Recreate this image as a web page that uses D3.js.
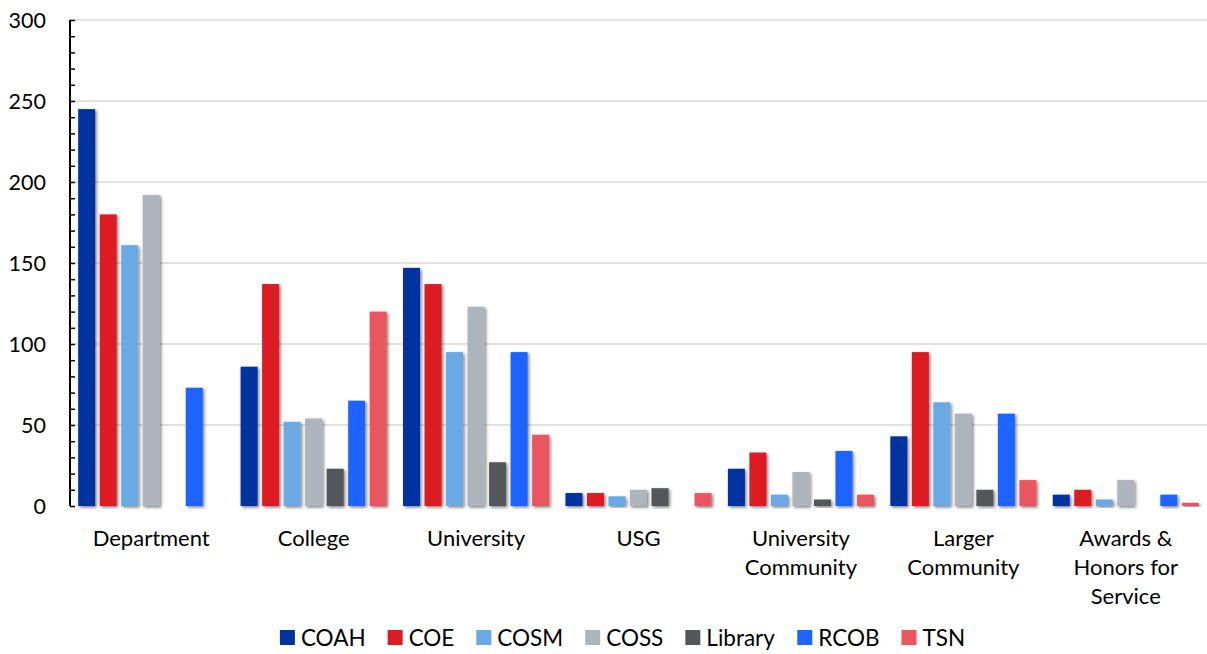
<!DOCTYPE html>
<html><head><meta charset="utf-8">
<script src="https://cdn.jsdelivr.net/npm/d3@7"></script>
<style>
html,body{margin:0;padding:0;background:#fff;}
svg{display:block;font-family:Lato,"Open Sans",sans-serif;}
</style></head>
<body>
<svg id="chart" width="1207" height="654"></svg>
<script>
const categories = [["Department"],["College"],["University"],["USG"],["University","Community"],["Larger","Community"],["Awards &","Honors for","Service"]];
const seriesNames = ["COAH","COE","COSM","COSS","Library","RCOB","TSN"];
const seriesColors = ["#0033A0","#DC1C24","#6AA9E4","#AEB4BB","#53565A","#1F63FF","#EA5760"];
const COAH    = [245, 86, 147, 8, 23, 43, 7];
const COE     = [180, 137, 137, 8, 33, 95, 10];
const COSM    = [161, 52, 95, 6, 7, 64, 4];
const COSS    = [192, 54, 123, 10, 21, 57, 16];
const Library = [0, 23, 27, 11, 4, 10, 0];
const RCOB    = [73, 65, 95, 0, 34, 57, 7];
const TSN     = [0, 120, 44, 8, 7, 16, 2];
const yTicks = [0, 50, 100, 150, 200, 250, 300];

const seriesValues = [COAH, COE, COSM, COSS, Library, RCOB, TSN];
const svg = d3.select("#chart");
const mLeft = 70, mRight = 1207, mTop = 20, mBottom = 506;

const defs = svg.append("defs");
const f = defs.append("filter").attr("id","sh").attr("x","-30%").attr("y","-10%").attr("width","160%").attr("height","130%");
f.append("feDropShadow").attr("dx",1.5).attr("dy",1.5).attr("stdDeviation",1.8).attr("flood-color","#000").attr("flood-opacity",0.5);

const catKeys = categories.map((c,i)=>i);
const x0 = d3.scaleBand().domain(catKeys).range([mLeft, mRight]).paddingInner(0).paddingOuter(0);
const x1 = d3.scaleBand().domain(seriesNames).range([0, x0.bandwidth()]).paddingInner(0.21).paddingOuter(0.38);
const y = d3.scaleLinear().domain([0,300]).range([mBottom, mTop]);

// gridlines
svg.append("g").selectAll("line").data(yTicks.filter(t=>t>0)).join("line")
  .attr("x1",mLeft).attr("x2",mRight).attr("y1",d=>y(d)).attr("y2",d=>y(d))
  .attr("stroke","#d9d9d9").attr("stroke-width",1.5);

// baseline
svg.append("line").attr("x1",mLeft).attr("x2",mRight).attr("y1",y(0)).attr("y2",y(0))
  .attr("stroke","#d0d0d0").attr("stroke-width",2.5).attr("filter","url(#sh)");

// bars
const groups = svg.append("g").selectAll("g").data(catKeys).join("g")
  .attr("transform",d=>`translate(${x0(d)},0)`);
groups.selectAll("rect").data(ci=>seriesNames.map((s,si)=>({s,si,v:seriesValues[si][ci]}))).join("rect")
  .attr("x",d=>x1(d.s)).attr("width",x1.bandwidth())
  .attr("y",d=>y(d.v)).attr("height",d=>y(0)-y(d.v))
  .attr("fill",d=>seriesColors[d.si]).attr("filter","url(#sh)");

// y axis
const yAxis = d3.axisRight(y).tickValues(d3.range(0,301,10)).tickSize(5).tickFormat("");
const ga = svg.append("g").attr("transform",`translate(${mLeft},0)`).call(yAxis);
ga.select(".domain").attr("stroke","#000").attr("stroke-width",2).attr("d",`M0,${mTop}V${mBottom}`);
ga.selectAll(".tick line").attr("stroke","#000").attr("stroke-width",1.5);

// y labels
svg.append("g").selectAll("text").data(yTicks).join("text")
  .attr("x",46).attr("y",d=>y(d)).attr("dy","0.35em").attr("text-anchor","end")
  .attr("font-size",21.5).attr("fill","#000").text(d=>d);

// x labels
const xl = svg.append("g").selectAll("text").data(catKeys).join("text")
  .attr("text-anchor","middle").attr("font-size",22).attr("fill","#000");
xl.each(function(ci){
  const t = d3.select(this);
  categories[ci].forEach((line,li)=>{
    t.append("tspan").attr("x",x0(ci)+x0.bandwidth()/2).attr("y",546+li*29).text(line);
  });
});

// legend
const lg = svg.append("g");
const items = lg.selectAll("g").data(seriesNames).join("g");
items.append("rect").attr("width",15).attr("height",15).attr("y",-8).attr("fill",(d,i)=>seriesColors[i]);
items.append("text").attr("x",21).attr("y",0).attr("dy","0.35em").attr("font-size",22.5).text(d=>d);
let cx = 0;
items.each(function(){
  const w = this.getBBox().width;
  d3.select(this).attr("transform",`translate(${cx},638)`);
  cx += w + 22;
});
const total = cx - 22;
lg.attr("transform",`translate(${(272+973)/2 - total/2},0)`);
</script>
</body></html>
